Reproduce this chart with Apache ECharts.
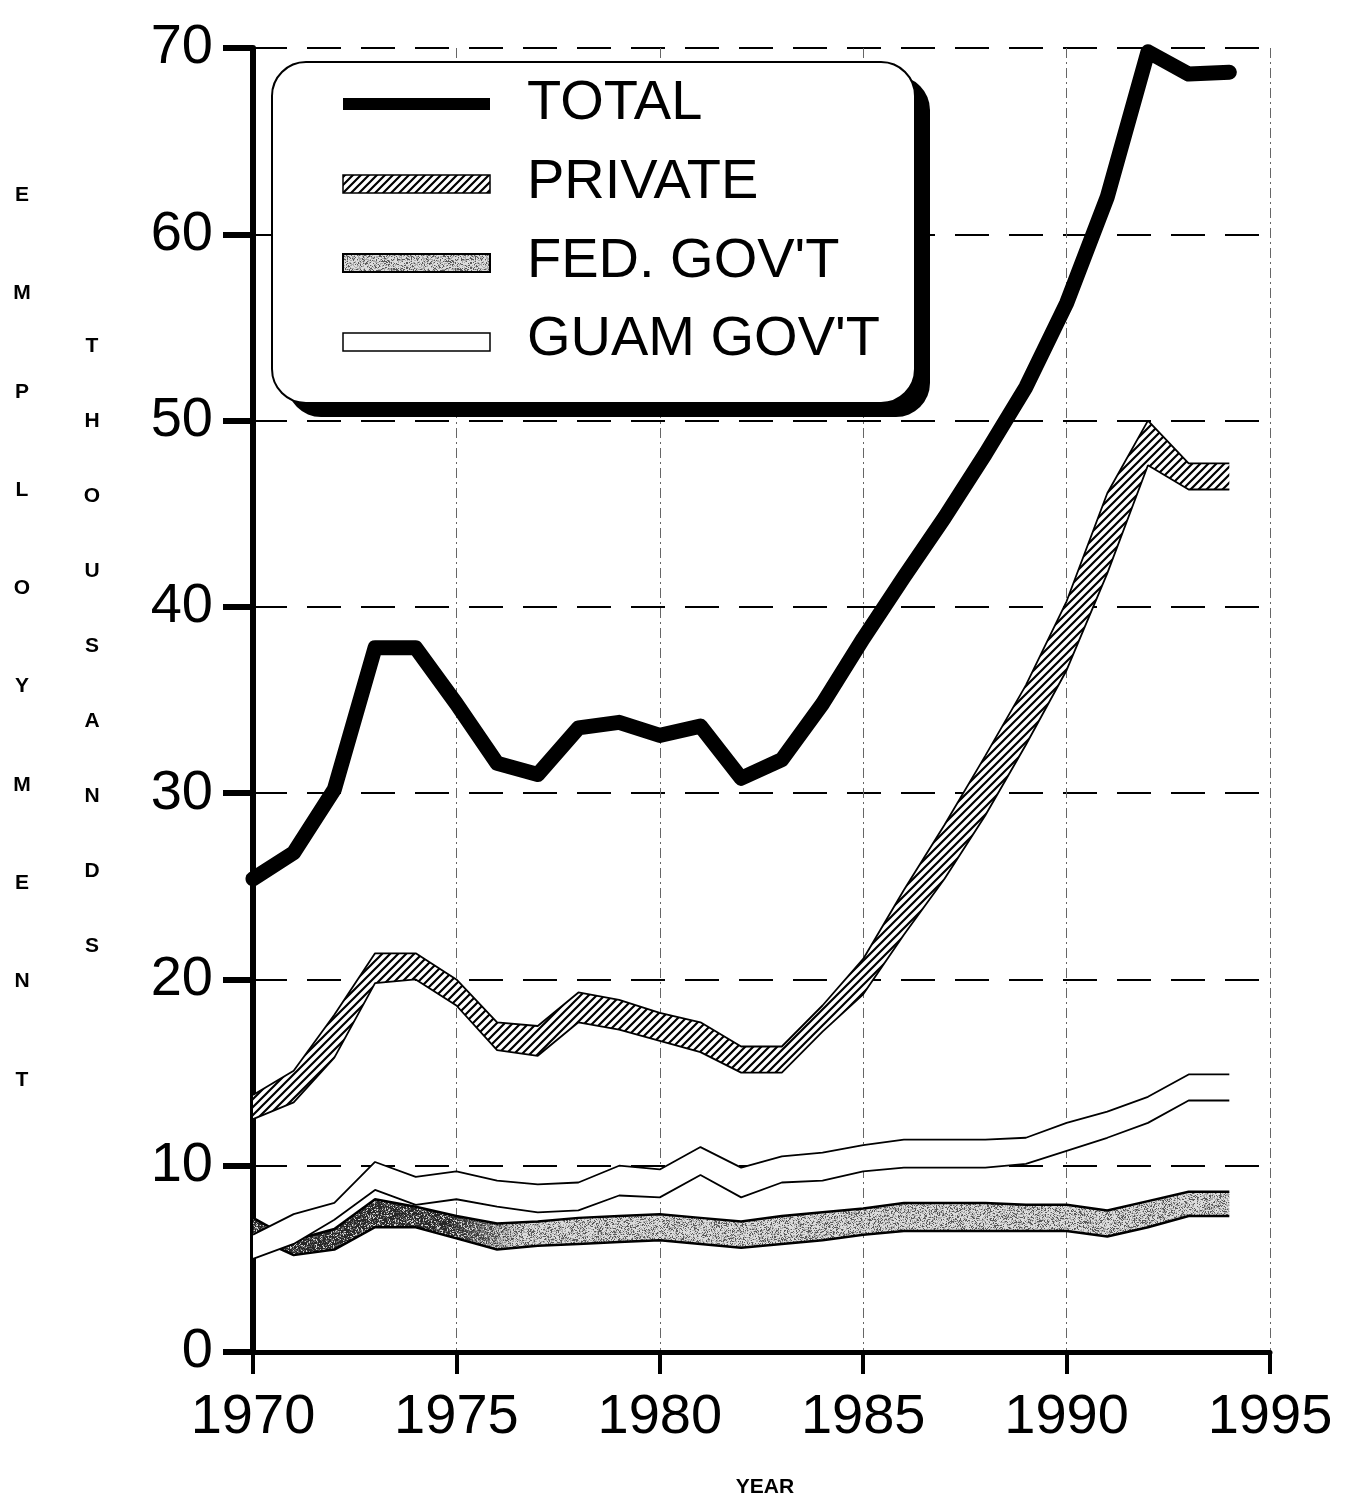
<!DOCTYPE html>
<html><head><meta charset="utf-8">
<script src="https://cdn.jsdelivr.net/npm/echarts@6/dist/echarts.min.js"></script>
<style>html,body{margin:0;padding:0;background:#fff}#c{width:1345px;height:1498px}</style>
</head><body><div id="c"></div>
<script>
const years = [1970,1971,1972,1973,1974,1975,1976,1977,1978,1979,1980,1981,1982,1983,1984,1985,1986,1987,1988,1989,1990,1991,1992,1993,1994];
const axisYears = [1970,1971,1972,1973,1974,1975,1976,1977,1978,1979,1980,1981,1982,1983,1984,1985,1986,1987,1988,1989,1990,1991,1992,1993,1994,1995];
const xTicks = [1970,1975,1980,1985,1990,1995];
const yTicks = [0,10,20,30,40,50,60,70];
const total = [25.4,26.8,30.2,37.8,37.8,34.8,31.6,31.0,33.5,33.8,33.1,33.6,30.8,31.8,34.8,38.3,41.6,44.8,48.2,51.8,56.3,62.0,69.8,68.6,68.7];
const privateTop = [13.8,15.1,18.1,21.4,21.4,20.0,17.7,17.5,19.3,18.9,18.2,17.7,16.4,16.4,18.6,21.1,24.8,28.3,32.0,35.8,40.3,46.1,50.0,47.7,47.7];
const privateBottom = [12.5,13.4,15.8,19.8,20.0,18.6,16.2,15.9,17.7,17.3,16.7,16.1,15.0,15.0,17.2,19.2,22.4,25.4,28.8,32.6,36.6,41.8,47.6,46.3,46.3];
const fedTop = [7.2,6.0,6.6,8.2,7.8,7.3,6.9,7.0,7.2,7.3,7.4,7.2,7.0,7.3,7.5,7.7,8.0,8.0,8.0,7.9,7.9,7.6,8.1,8.6,8.6];
const fedBottom = [6.2,5.2,5.5,6.7,6.7,6.1,5.5,5.7,5.8,5.9,6.0,5.8,5.6,5.8,6.0,6.3,6.5,6.5,6.5,6.5,6.5,6.2,6.7,7.3,7.3];
const guamTop = [6.3,7.4,8.0,10.2,9.4,9.7,9.2,9.0,9.1,10.0,9.8,11.0,9.9,10.5,10.7,11.1,11.4,11.4,11.4,11.5,12.3,12.9,13.7,14.9,14.9];
const guamBottom = [5.0,5.8,7.1,8.7,7.9,8.2,7.8,7.5,7.6,8.4,8.3,9.5,8.3,9.1,9.2,9.7,9.9,9.9,9.9,10.1,10.8,11.5,12.3,13.5,13.5];
const legendNames = ['TOTAL','PRIVATE',"FED. GOV'T","GUAM GOV'T"];
const leftLabel1 = 'EMPLOYMENT';
const leftLabel2 = 'THOUSANDS';
const xName = 'YEAR';

const FONT = "'Liberation Sans', Arial, Helvetica, sans-serif";

function hatchCanvas(){
  const c = document.createElement('canvas'); c.width = 8; c.height = 8;
  const g = c.getContext('2d');
  g.fillStyle = '#fff'; g.fillRect(0,0,8,8);
  g.strokeStyle = '#000'; g.lineWidth = 2.2;
  g.beginPath();
  g.moveTo(-2,10); g.lineTo(10,-2);
  g.moveTo(-2,2); g.lineTo(2,-2);
  g.moveTo(6,10); g.lineTo(10,6);
  g.stroke();
  return c;
}
function hash(x,y){ const s = Math.sin(x*12.9898 + y*78.233)*43758.5453; return s - Math.floor(s); }
function speckleCanvas(w, h, darkUntil){
  const c = document.createElement('canvas'); c.width = w; c.height = h;
  const g = c.getContext('2d');
  const img = g.createImageData(w,h);
  for(let y=0;y<h;y++){ for(let x=0;x<w;x++){
    const r = hash(x,y);
    let t = 0;
    if (darkUntil) { t = x < darkUntil ? 1 : (x < darkUntil+70 ? 1-(x-darkUntil)/70 : 0); }
    const light = r < 0.22 ? 90 : (r < 0.5 ? 170 : 220);
    const dark = r < 0.6 ? 40 : (r < 0.85 ? 100 : 210);
    const v = Math.round(light*(1-t) + dark*t);
    const i = (y*w+x)*4; img.data[i]=v; img.data[i+1]=v; img.data[i+2]=v; img.data[i+3]=255;
  }}
  g.putImageData(img,0,0);
  return c;
}
const hatchPat = {image: hatchCanvas(), repeat: 'repeat'};
const fedPlotPat = {image: speckleCanvas(1345, 64, 450), repeat: 'repeat'};
const fedLegendPat = {image: speckleCanvas(64, 64, 0), repeat: 'repeat'};

const diff = (a,b) => a.map((v,i)=> +(v-b[i]).toFixed(2));
const isTick = (idx, val) => xTicks.indexOf(Number(val)) >= 0;

const chart = echarts.init(document.getElementById('c'), null, {renderer:'canvas'});

const legendY = [104,183,262,340];
const graphics = [
  {type:'rect', shape:{x:287,y:76,width:643,height:341,r:34}, style:{fill:'#000'}, z:10},
  {type:'rect', shape:{x:272,y:62,width:643,height:341,r:34}, style:{fill:'#fff', stroke:'#000', lineWidth:2}, z:11},
  {type:'rect', shape:{x:343,y:98,width:147,height:12}, style:{fill:'#000'}, z:12},
  {type:'rect', shape:{x:343,y:175,width:147,height:18}, style:{fill:hatchPat, stroke:'#000', lineWidth:1.5}, z:12},
  {type:'rect', shape:{x:343,y:254,width:147,height:18}, style:{fill:fedLegendPat, stroke:'#000', lineWidth:2}, z:12},
  {type:'rect', shape:{x:343,y:333,width:147,height:18}, style:{fill:'#fff', stroke:'#000', lineWidth:1.5}, z:12},
  {type:'text', x:22, y:146, style:{text:leftLabel1.split('').join('\n'), font:'bold 21px '+FONT, fill:'#000', align:'center', verticalAlign:'top', lineHeight:98.3}, z:12},
  {type:'text', x:92, y:309, style:{text:leftLabel2.split('').join('\n'), font:'bold 21px '+FONT, fill:'#000', align:'center', verticalAlign:'top', lineHeight:75}, z:12},
  {type:'text', x:765, y:1487, style:{text:xName, font:'bold 21px '+FONT, fill:'#000', align:'center', verticalAlign:'middle'}, z:12}
];
legendNames.forEach((n,i)=>{
  graphics.push({type:'text', x:527, y:legendY[i], style:{text:n, font:'56px '+FONT, fill:'#000', align:'left', verticalAlign:'middle'}, z:12});
});

const bandLine = {color:'#000', width:1.8};
chart.setOption({
  animation:false,
  backgroundColor:'#fff',
  grid:{left:253, right:75, top:48, bottom:146, containLabel:false},
  xAxis:{
    type:'category', data:axisYears.map(String), boundaryGap:false,
    axisLine:{show:true, lineStyle:{color:'#000', width:5}},
    axisTick:{show:true, length:22, interval:isTick, lineStyle:{color:'#000', width:4}},
    axisLabel:{fontSize:56, color:'#000', fontFamily:FONT, margin:38, interval:isTick},
    splitLine:{show:true, interval:isTick, lineStyle:{color:'#666', width:1, type:[10,4,2,4]}}
  },
  yAxis:{
    type:'value', min:0, max:70, interval:10,
    axisLine:{show:true, lineStyle:{color:'#000', width:6}},
    axisTick:{show:true, length:30, lineStyle:{color:'#000', width:6}},
    axisLabel:{fontSize:56, color:'#000', fontFamily:FONT, margin:40,
      formatter: v => yTicks.indexOf(v) >= 0 ? String(v) : ''},
    splitLine:{show:true, lineStyle:{color:'#000', width:2, type:[34,20]}}
  },
  graphic: graphics,
  series:[
    {name:'fedBase', type:'line', stack:'fed', data:fedBottom, symbol:'none', z:3,
      lineStyle:{color:'#000', width:2.5}},
    {name:legendNames[2], type:'line', stack:'fed', data:diff(fedTop, fedBottom), symbol:'none', z:3,
      lineStyle:{color:'#000', width:2.5}, areaStyle:{color:fedPlotPat, opacity:1}},
    {name:'guamBase', type:'line', stack:'guam', data:guamBottom, symbol:'none', z:4,
      lineStyle:bandLine},
    {name:legendNames[3], type:'line', stack:'guam', data:diff(guamTop, guamBottom), symbol:'none', z:4,
      lineStyle:bandLine, areaStyle:{color:'#fff', opacity:1}},
    {name:'privBase', type:'line', stack:'priv', data:privateBottom, symbol:'none', z:4,
      lineStyle:bandLine},
    {name:legendNames[1], type:'line', stack:'priv', data:diff(privateTop, privateBottom), symbol:'none', z:4,
      lineStyle:bandLine, areaStyle:{color:hatchPat, opacity:1}},
    {name:legendNames[0], type:'line', data:total, symbol:'none', z:5,
      lineStyle:{color:'#000', width:15, join:'round', cap:'round'}}
  ]
});
</script></body></html>
